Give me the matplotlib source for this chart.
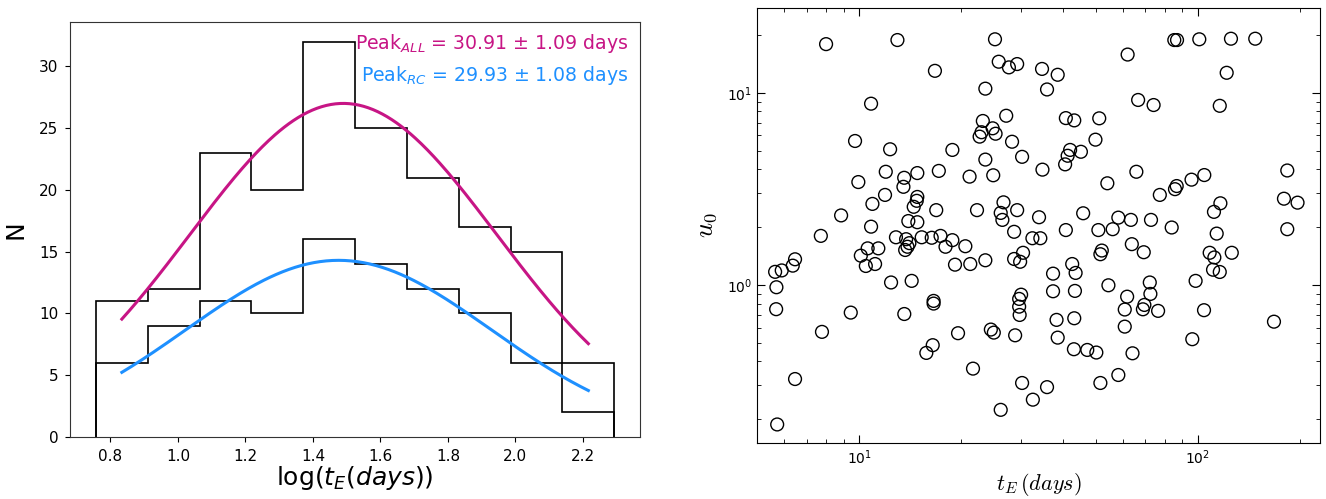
import numpy as np
import matplotlib
matplotlib.use("Agg")
import matplotlib.pyplot as plt

# left panel: histogram counts of log10(tE), same 10 bins for both samples
bin_lo, bin_hi = 0.757, 2.293
counts_all = [11, 12, 23, 20, 32, 25, 21, 17, 15, 6]
counts_rc = [6, 9, 11, 10, 16, 14, 12, 10, 6, 2]

# gaussian fits (amplitude, centre, sigma) in log10(tE)
fit_all = (27.0, 1.490, 0.455)
fit_rc = (14.3, 1.476, 0.453)
label_all = r"Peak$_{ALL}$ = 30.91 $\pm$ 1.09 days"
label_rc = r"Peak$_{RC}$ = 29.93 $\pm$ 1.08 days"

# right panel: tE (days) vs u0
te = [7.99, 12.98, 16.75, 10.85, 9.73, 12.35, 11.99, 13.59, 14.86, 17.2, 9.95, 13.52,
      11.93, 14.86, 14.8, 14.5, 10.95, 16.9, 8.85, 13.98, 14.86, 10.85,
      25.2, 62.1, 25.85, 27.7, 29.3, 34.7, 38.6, 23.6, 35.9, 66.7, 23.2, 27.2,
      24.8, 23.0, 22.7, 25.3, 40.8, 43.2, 51.2, 28.3, 49.9, 18.86, 42.0, 41.3,
      45.2, 40.6, 23.6, 30.3, 65.9, 21.2, 24.9, 34.8, 54.1, 26.7, 22.3, 26.2,
      29.3, 26.5, 34.0, 45.9, 58.3, 63.5,
      85.3, 86.9, 101.1, 125.4, 147.9, 121.8, 74.1, 116.2, 183.9, 104.6, 95.9,
      86.7, 85.7, 77.3, 116.7, 111.7, 179.8, 197.2, 72.8,
      7.71, 12.85, 13.77, 14.08, 13.9, 13.68, 15.31, 16.39, 17.4, 18.0, 10.6,
      11.4, 10.12, 10.47, 11.15, 6.47, 6.37, 5.65, 5.91, 5.70, 5.69, 12.43,
      14.3, 9.45, 13.6, 16.6, 16.6, 7.77, 16.5, 15.8, 6.47, 5.73,
      40.8, 50.9, 56.1, 18.86, 20.6, 19.2, 21.3, 23.6, 28.7, 32.5, 34.3, 30.5,
      28.7, 29.9, 37.4, 42.6, 43.6, 52.1, 51.6, 63.9, 54.5, 37.4, 43.4, 30.1,
      29.7, 29.7, 29.8, 61.9, 60.9, 60.9, 38.3, 43.2, 38.6, 19.6, 24.5, 25.0,
      28.9, 43.1, 47.2, 50.2, 64.2, 21.7, 30.3, 35.9, 32.6, 26.2, 51.6, 58.3,
      83.8, 183.9, 113.8, 69.3, 108.5, 112.0, 126.1, 111.0, 116.2, 72.2, 98.6,
      72.5, 69.6, 68.9, 76.4, 104.4, 96.4, 168.0]
u0 = [17.9, 18.8, 13.0, 8.77, 5.61, 5.08, 3.88, 3.61, 3.82, 3.92, 3.43, 3.24,
      2.94, 2.87, 2.74, 2.55, 2.64, 2.45, 2.30, 2.15, 2.12, 2.01,
      18.97, 15.8, 14.5, 13.55, 14.1, 13.3, 12.4, 10.5, 10.4, 9.17, 7.13, 7.59,
      6.53, 6.23, 5.91, 6.12, 7.38, 7.18, 7.36, 5.56, 5.70, 5.04, 5.04, 4.70,
      4.93, 4.24, 4.49, 4.64, 3.88, 3.66, 3.72, 3.98, 3.38, 2.69, 2.45, 2.37,
      2.45, 2.18, 2.25, 2.36, 2.24, 2.18,
      18.8, 18.8, 18.97, 19.1, 19.1, 12.7, 8.63, 8.55, 3.94, 3.73, 3.53,
      3.27, 3.15, 2.94, 2.66, 2.40, 2.81, 2.68, 2.18,
      1.80, 1.77, 1.73, 1.65, 1.58, 1.52, 1.77, 1.76, 1.80, 1.58, 1.55,
      1.55, 1.42, 1.255, 1.285, 1.36, 1.26, 1.17, 1.19, 0.973, 0.748, 1.03,
      1.05, 0.718, 0.706, 0.826, 0.80, 0.570, 0.486, 0.443, 0.324, 0.188,
      1.93, 1.93, 1.95, 1.71, 1.59, 1.275, 1.285, 1.344, 1.89, 1.75, 1.75, 1.47,
      1.365, 1.32, 1.145, 1.285, 1.155, 1.51, 1.445, 1.63, 0.996, 0.927, 0.931, 0.890,
      0.846, 0.771, 0.698, 0.869, 0.745, 0.607, 0.658, 0.671, 0.532, 0.561, 0.586, 0.565,
      0.547, 0.463, 0.459, 0.445, 0.441, 0.367, 0.309, 0.294, 0.253, 0.224, 0.309, 0.340,
      1.99, 1.95, 1.85, 1.48, 1.47, 1.39, 1.47, 1.20, 1.168, 1.03, 1.05,
      0.898, 0.787, 0.747, 0.733, 0.739, 0.522, 0.644]

c_all = "#c71585"
c_rc = "#1e90ff"

fig = plt.figure(figsize=(13.26, 4.99), dpi=100)
ax1 = fig.add_axes([0.0528, 0.1242, 0.430, 0.832])
ax2 = fig.add_axes([0.571, 0.1116, 0.4246, 0.873])

# histograms
edges = np.linspace(bin_lo, bin_hi, len(counts_all) + 1)
centres = 0.5 * (edges[1:] + edges[:-1])
ax1.stairs(counts_all, edges, baseline=0, color="k", lw=1.2)
ax1.stairs(counts_rc, edges, baseline=0, color="k", lw=1.2)

xx = np.linspace(centres[0], centres[-1], 300)
for (a, mu, sig), col in [(fit_all, c_all), (fit_rc, c_rc)]:
    ax1.plot(xx, a * np.exp(-(xx - mu) ** 2 / (2 * sig ** 2)), color=col, lw=2.2)

ax1.text(0.979, 0.947, label_all, color=c_all, fontsize=13.6, ha="right", va="center",
         transform=ax1.transAxes)
ax1.text(0.979, 0.870, label_rc, color=c_rc, fontsize=13.6, ha="right", va="center",
         transform=ax1.transAxes)

ax1.set_xticks([0.8, 1.0, 1.2, 1.4, 1.6, 1.8, 2.0, 2.2])
ax1.tick_params(labelsize=11, pad=5)
ax1.set_xlabel(r"log($t_E(days)$)", fontsize=18, labelpad=0)
ax1.set_ylabel("N", fontsize=18, labelpad=8)
for s in ax1.spines.values():
    s.set_color("0.2")

# scatter
ax2.scatter(te, u0, s=85, facecolors="none", edgecolors="k", linewidths=1.0)
ax2.set_xscale("log")
ax2.set_yscale("log")
ax2.set_xlim(5.0, 230)
ax2.set_ylim(0.15, 27.7)
ax2.tick_params(which="both", direction="in", top=True, right=True, labelsize=10)
ax2.tick_params(which="major", length=6)
ax2.tick_params(which="minor", length=3)
ax2.set_xlabel(r"$t_E\,(days)$", fontsize=16, math_fontfamily="cm", labelpad=3)
ax2.set_ylabel(r"$u_0$", fontsize=19, math_fontfamily="cm", labelpad=6)

fig.savefig("out.png", dpi=100)
